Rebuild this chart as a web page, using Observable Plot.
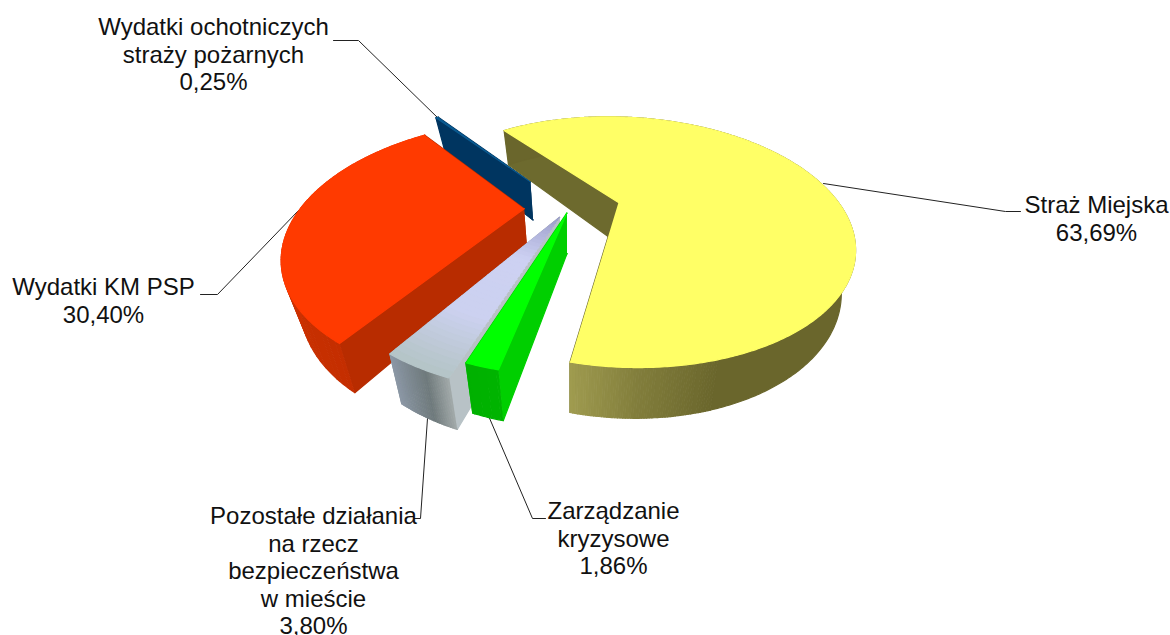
<!DOCTYPE html>
<html><head><meta charset="utf-8">
<style>html,body{margin:0;padding:0;background:#fff}svg{display:block}</style>
<script src="https://cdn.jsdelivr.net/npm/d3@7"></script>
<script src="https://cdn.jsdelivr.net/npm/@observablehq/plot@0.6"></script>
</head><body><div id="chart"></div>
<script>
const categories = ["Straż Miejska","Zarządzanie\nkryzysowe","Pozostałe działania\nna rzecz\nbezpieczeństwa\nw mieście","Wydatki KM PSP","Wydatki ochotniczych\nstraży pożarnych"];
const values = [63.69,1.86,3.80,30.40,0.25];
const explode = [0.2,0.05,0.125,0.23,0.3];
const nudgeX = [0,-0.025,-0.015,0,-0.035];
const nudgeY = [0,0,0.03,0,0];
const sliceRadius = [1,0.94,0.97,1,1];
const topColors = [["#ffff66"],["#00ff00"],["#9a9cc8","#cdd1f2","#ccd1f0","#b4c4c6"],["#ff3a00"],["#0a5a90"]];
const sideColors = [["#6d6a2e","#6d6a2e"],["#00cf00","#00cf00"],["#b8c2c6","#8c98a4"],["#b82c00","#b82c00"],["#003560","#003560"]];
const wallStops = [
 [[-37,165,180,192.5],["#6a662c","#6a662c","#827e3c","#a09c50"]],
 [[192,199.5],["#00b400","#00b000"]],
 [[199,204,212.8],["#a2aaaa","#6f7a7c","#8c98a6"]],
 [[212,230,280,322],["#c42e00","#c83000","#e03400","#e03400"]],
 [[322,323],["#003560","#003560"]]
];
const startAngle = -37;
const labelX = [1096,613,313,103,213];
const labelY = [193,499,504,275,15];
const leaders = [
 [[823,183],[1005,211],[1020,211]],
 [[487,413],[532,518],[545,518]],
 [[427,418],[420,518],[414,518]],
 [[298,210],[217,294],[200,294]],
 [[438,118],[358,40],[333,40]]
];

// perspective model of the tilted pie disc
const cx=575, cy=207, R=223, B=116, P=0.32, DEPTH=40, NX=570, SHIFT=0.066, SHIFT_R=0.05;
const rad=d=>d*Math.PI/180;
function topPt(X,Y){const s=1/(1+P*Y);return [cx+R*X*s, cy-B*Y*s];}
function botPt(X,Y){const s=1/(1+P*Y);const p=topPt(X,Y);return [p[0]+(NX-p[0])*(p[0]>NX?SHIFT_R:SHIFT), p[1]+DEPTH*Math.pow(s,0.65)];}

const rows=[]; let pid=0;
function poly(pts,fill){const id=pid++;for(const [x,y] of pts)rows.push({id,x,y,fill});}

const total=d3.sum(values);
let a0=startAngle;
const slices=values.map((v,i)=>{const a1=a0+v/total*360;const s={i,a0,a1,mid:(a0+a1)/2};a0=a1;return s;});
const order=[4,0,3,2,1];
for(const i of order){
  const {a0,a1,mid}=slices[i];
  const ox=explode[i]*Math.sin(rad(mid))+nudgeX[i], oy=explode[i]*Math.cos(rad(mid))+nudgeY[i];
  const rr=sliceRadius[i];
  const pt=(a,r=1)=>[ox+rr*r*Math.sin(rad(a)),oy+rr*r*Math.cos(rad(a))];
  const n=Math.max(8,Math.ceil((a1-a0)/0.5));
  const angs=d3.range(n+1).map(k=>a0+(a1-a0)*k/n);
  const c=[ox,oy];
  poly([topPt(...c),topPt(...pt(a1)),botPt(...pt(a1)),botPt(...c)],sideColors[i][1]);
  poly([topPt(...c),topPt(...pt(a0)),botPt(...pt(a0)),botPt(...c)],sideColors[i][0]);
  // outer wall: consecutive strips of one colour are merged into a single polygon
  const wall=d3.scaleLinear().domain(wallStops[i][0]).range(wallStops[i][1]).clamp(true);
  let k=0;
  while(k<n){
    const col=wall((angs[k]+angs[k+1])/2);
    let j=k+1;
    while(j<n && wall((angs[j]+angs[j+1])/2)===col) j++;
    const span=angs.slice(k,j+1);
    poly([...span.map(a=>topPt(...pt(a))),...span.slice().reverse().map(a=>botPt(...pt(a)))],col);
    k=j;
  }
  const tc=topColors[i];
  if(tc.length===1){
    poly([topPt(...c),...angs.map(a=>topPt(...pt(a)))],tc[0]);
  } else {
    const col=d3.scaleLinear().domain([0,0.35,0.72,1]).range(tc);
    const m=40;
    for(let q=0;q<m;q++){
      const r0=q/m,r1=(q+1)/m;
      const outer=angs.map(a=>topPt(...pt(a,r1)));
      const inner=angs.map(a=>topPt(...pt(a,r0))).reverse();
      poly([...outer,...inner],col((r0+r1)/2));
    }
  }
}

const leaderRows=leaders.flatMap((l,i)=>l.map(([x,y])=>({i,x,y})));
const pct=v=>v.toFixed(2).replace(".",",")+"%";
const labels=categories.map((c,i)=>({t:c+"\n"+pct(values[i]),x:labelX[i],y:labelY[i]}));

const chart=Plot.plot({
  width:1170,height:635,margin:0,
  x:{domain:[0,1170],axis:null},
  y:{domain:[635,0],axis:null},
  color:{type:"identity"},
  marks:[
    Plot.line(leaderRows,{x:"x",y:"y",z:"i",stroke:"#222",strokeWidth:1}),
    Plot.line(rows,{x:"x",y:"y",z:"id",fill:"fill",stroke:"fill",strokeWidth:1.2}),
    Plot.text(labels,{x:"x",y:"y",text:"t",textAnchor:"middle",lineAnchor:"top",lineHeight:1.146,fontSize:24,fontFamily:"Liberation Sans, Arial, sans-serif",fill:"#111"})
  ]
});
document.getElementById("chart").append(chart);
</script></body></html>
